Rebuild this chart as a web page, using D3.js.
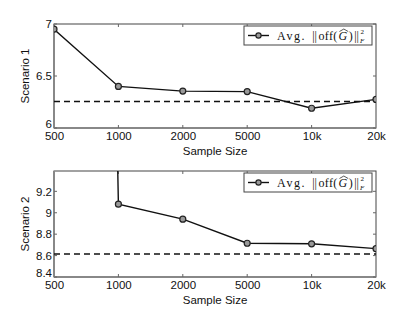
<!DOCTYPE html>
<html>
<head>
<meta charset="utf-8">
<title></title>
<style type="text/css">
  body{ margin:0; background:#fff; }
  svg text{ font-family: "Liberation Sans", Arial, sans-serif; fill:#111; }
  .leg{ font-family: "Liberation Serif", "DejaVu Serif", serif; }
</style>
</head>
<body>
<div id="chart"></div>
<script src="https://d3js.org/d3.v7.min.js"></script>
<script>
// data
const sizes = ["500", "1000", "2000", "5000", "10k", "20k"];
const scen1 = [6.95, 6.40, 6.355, 6.35, 6.19, 6.275];
const base1 = 6.255;
const yTicks1 = [6, 6.5, 7];
const scen2 = [40, 9.08, 8.94, 8.715, 8.71, 8.665];   // 500 value is far off the top
const base2 = 8.615;
const yTicks2 = [8.4, 8.6, 8.8, 9, 9.2];

const W = 415, H = 312;
const svg = d3.select("#chart").append("svg").attr("width", W).attr("height", H);

function panel(id, top, bottom, vals, base, dom, ticks, label) {
  const left = 54, right = 376;
  const x = d3.scalePoint().domain(sizes).range([left, right]);
  const y = d3.scaleLinear().domain(dom).range([bottom, top]);
  const g = svg.append("g");

  g.append("clipPath").attr("id", id)
    .append("rect").attr("x", left).attr("y", top)
    .attr("width", right - left).attr("height", bottom - top);

  // box
  g.append("rect").attr("x", left).attr("y", top)
    .attr("width", right - left).attr("height", bottom - top)
    .attr("fill", "none").attr("stroke", "#444").attr("stroke-width", 1);
  g.append("line").attr("x1", left).attr("x2", left).attr("y1", top).attr("y2", bottom)
    .attr("stroke", "#888").attr("stroke-width", 2);
  g.append("line").attr("x1", left).attr("x2", right).attr("y1", bottom).attr("y2", bottom)
    .attr("stroke", "#888").attr("stroke-width", 2);

  // x axis
  const xa = g.append("g").attr("transform", "translate(0," + bottom + ")")
    .call(d3.axisBottom(x).tickSize(0).tickPadding(4));
  xa.select(".domain").remove();
  xa.selectAll("text").attr("font-size", 11.5).attr("font-family", "Liberation Sans, Arial, sans-serif").attr("fill", "#111");
  // inner tick marks top and bottom
  sizes.slice(1, -1).forEach(function(s) {
    g.append("line").attr("x1", x(s)).attr("x2", x(s)).attr("y1", bottom).attr("y2", bottom - 3).attr("stroke", "#666");
    g.append("line").attr("x1", x(s)).attr("x2", x(s)).attr("y1", top).attr("y2", top + 3).attr("stroke", "#666");
  });

  // y axis
  const ya = g.append("g").attr("transform", "translate(" + left + ",0)")
    .call(d3.axisLeft(y).tickValues(ticks).tickSize(0).tickPadding(2).tickFormat(d3.format("")));
  ya.select(".domain").remove();
  ya.selectAll("text").attr("font-size", 11.5).attr("font-family", "Liberation Sans, Arial, sans-serif").attr("fill", "#111");
  // lowest label sits just above the x labels
  ya.selectAll("text").filter(function(d) { return d === ticks[0]; }).attr("dy", "-0.05em");
  ticks.forEach(function(t) {
    g.append("line").attr("x1", right).attr("x2", right - 3).attr("y1", y(t)).attr("y2", y(t)).attr("stroke", "#666");
    g.append("line").attr("x1", left).attr("x2", left + 3).attr("y1", y(t)).attr("y2", y(t)).attr("stroke", "#666");
  });

  g.append("text").attr("transform", "translate(29," + ((top + bottom) / 2) + ") rotate(-90)")
    .attr("text-anchor", "middle").attr("font-size", 11.5).text(label);
  g.append("text").attr("x", (left + right) / 2).attr("y", bottom + 27)
    .attr("text-anchor", "middle").attr("font-size", 11.5).text("Sample Size");

  const plot = g.append("g").attr("clip-path", "url(#" + id + ")");
  plot.append("line").attr("x1", left).attr("x2", right).attr("y1", y(base)).attr("y2", y(base))
    .attr("stroke", "#111").attr("stroke-width", 1.5).attr("stroke-dasharray", "6,4");
  plot.append("path").datum(vals)
    .attr("d", d3.line().x(function(d, i) { return x(sizes[i]); }).y(function(d) { return y(d); }))
    .attr("fill", "none").attr("stroke", "#111").attr("stroke-width", 1.4);
  plot.selectAll("circle").data(vals).enter().append("circle")
    .attr("cx", function(d, i) { return x(sizes[i]); })
    .attr("cy", function(d) { return y(d); })
    .attr("r", 3).attr("fill", "#999").attr("stroke", "#222").attr("stroke-width", 1.2);

  // legend
  const lx = 244, ly = top + 2;
  const lg = g.append("g");
  lg.append("rect").attr("x", lx).attr("y", ly).attr("width", 128).attr("height", 19)
    .attr("fill", "#fff").attr("stroke", "#444").attr("stroke-width", 1);
  lg.append("line").attr("x1", lx + 4).attr("x2", lx + 25).attr("y1", ly + 9.5).attr("y2", ly + 9.5)
    .attr("stroke", "#111").attr("stroke-width", 1.4);
  lg.append("circle").attr("cx", lx + 14.5).attr("cy", ly + 9.5).attr("r", 2.6)
    .attr("fill", "#999").attr("stroke", "#222").attr("stroke-width", 1.2);
  const t = lg.append("text").attr("class", "leg").attr("x", lx + 33).attr("y", ly + 14)
    .attr("font-size", 12);
  t.append("tspan").attr("letter-spacing", 1.6).text("Avg.");
  t.append("tspan").attr("dx", 6).text("||");
  t.append("tspan").attr("dx", 1.5).attr("letter-spacing", 0.3).text("off(");
  t.append("tspan").attr("font-style", "italic").attr("dx", 1).text("G");
  t.append("tspan").attr("dx", 1.5).text(")");
  t.append("tspan").attr("dx", 1.5).text("||");
  t.append("tspan").attr("font-size", 7).attr("dx", 1.5).attr("dy", -6).text("2");
  t.append("tspan").attr("font-size", 7).attr("font-style", "italic").attr("dx", -4).attr("dy", 9).text("F");
  // wide hat over G
  const idx = 4 + 2 + 4;  // "Avg." + "||" + "off(" then G
  const ex = t.node().getExtentOfChar(idx);
  lg.append("path")
    .attr("d", "M" + (ex.x + 1) + "," + (ex.y + 2.5) + " l" + ((ex.width) / 2) + ",-2.5 l" + ((ex.width) / 2) + ",2.5")
    .attr("fill", "none").attr("stroke", "#111").attr("stroke-width", 0.7);
}

panel("c1", 24, 128, scen1, base1, [6, 7], yTicks1, "Scenario 1");
panel("c2", 171, 277, scen2, base2, [8.4, 9.39], yTicks2, "Scenario 2");
</script>
</body>
</html>
